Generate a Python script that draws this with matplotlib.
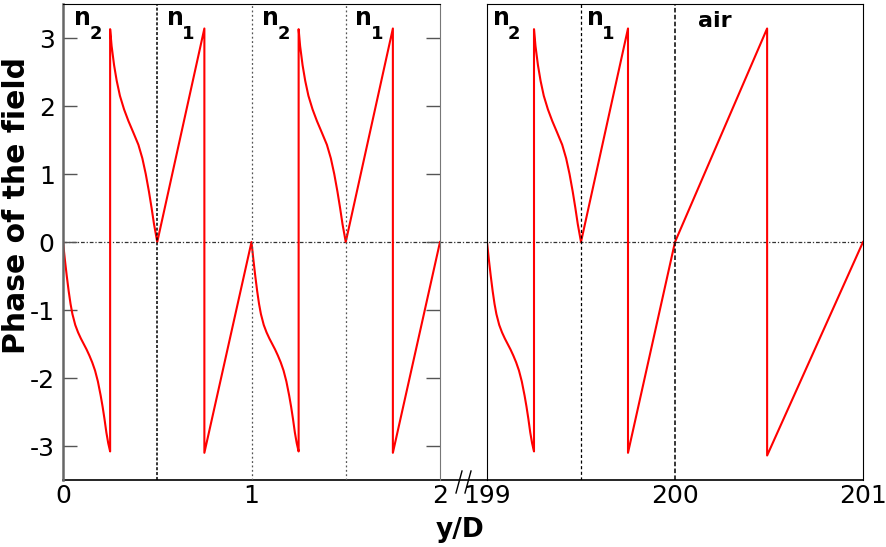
import numpy as np
import matplotlib.pyplot as plt

plt.rcParams["axes.unicode_minus"] = False
plt.rcParams["font.family"] = "DejaVu Sans"

# phase inside one n2 layer (position from layer start, y/D)
n2_pos_a = [0, 0.01, 0.02, 0.03, 0.04, 0.05, 0.065, 0.08, 0.095, 0.11, 0.125,
            0.14, 0.155, 0.17, 0.185, 0.2, 0.21, 0.22, 0.23, 0.24, 0.25]
n2_phase_a = [0, -0.26, -0.50, -0.72, -0.91, -1.06, -1.22, -1.33, -1.42, -1.50,
              -1.58, -1.67, -1.77, -1.89, -2.05, -2.26, -2.42, -2.60, -2.80,
              -2.96, -3.08]
n2_pos_b = [0.25, 0.258, 0.271, 0.285, 0.302, 0.324, 0.347, 0.373, 0.400,
            0.421, 0.439, 0.456, 0.470, 0.483, 0.5]
n2_phase_b = [3.13, 2.88, 2.60, 2.37, 2.15, 1.95, 1.78, 1.61, 1.43,
              1.23, 1.00, 0.74, 0.50, 0.26, 0]

# n1 layer and air layer: straight ramps with one wrap
n1_pos = [0, 0.25, 0.25, 0.5]
n1_phase = [0, 3.14, -3.10, 0]
air_pos = [0, 0.49, 0.49, 1.0]
air_phase = [0, 3.14, -3.14, 0]

left_starts = [0, 0.5, 1.0, 1.5]
left_layers = ["n2", "n1", "n2", "n1"]
right_starts = [199, 199.5, 200]
right_layers = ["n2", "n1", "air"]

profiles = {
    "n2": (n2_pos_a + n2_pos_b, n2_phase_a + n2_phase_b),
    "n1": (n1_pos, n1_phase),
    "air": (air_pos, air_phase),
}


def build_curve(starts, layers):
    xs, ys = [], []
    for s, lay in zip(starts, layers):
        p, ph = profiles[lay]
        xs += [s + v for v in p]
        ys += list(ph)
    return np.array(xs), np.array(ys)


W, H = 886, 547
fig = plt.figure(figsize=(W / 100, H / 100), dpi=100)

x0, x1, x2, x3 = 63, 440, 487, 863
ytop, ybot = 4, 480
fb = (H - ybot) / H
fh = (ybot - ytop) / H

# background axes: zero line and bottom line running across the gap
bg = fig.add_axes([x0 / W, fb, (x3 - x0) / W, fh])
bg.set_xlim(0, 1)
bg.set_ylim(-3.5, 3.5)
bg.axhline(0, color="#333333", lw=0.9, ls=(0, (3, 1.5, 1, 1.5)))
for s in ["left", "right", "top"]:
    bg.spines[s].set_visible(False)
bg.spines["bottom"].set_linewidth(1.2)
bg.set_xticks([])
bg.set_yticks([])
bg.patch.set_visible(False)

# break marks
gx = (456 - x0) / (x3 - x0)
for dx in [0, 9 / (x3 - x0)]:
    bg.plot([gx + dx, gx + dx + 6 / (x3 - x0)], [-13 / fh / H, 9 / fh / H],
            color="black", lw=1, transform=bg.transAxes, clip_on=False)

axL = fig.add_axes([x0 / W, fb, (x1 - x0) / W, fh])
axR = fig.add_axes([x2 / W, fb, (x3 - x2) / W, fh])

xl, yl = build_curve(left_starts, left_layers)
xr, yr = build_curve(right_starts, right_layers)
axL.plot(xl, yl, color="red", lw=1.5)
axR.plot(xr, yr, color="red", lw=1.5)

axL.axvline(0.5, color="black", lw=1.1, ls=(0, (2, 1.2)))
axL.axvline(1.0, color="#555555", lw=0.9, ls=(0, (1.5, 2)))
axL.axvline(1.5, color="#555555", lw=0.9, ls=(0, (1.5, 2)))
axR.axvline(199.5, color="black", lw=0.9, ls=(0, (2.5, 2)))
axR.axvline(200, color="black", lw=1.1, ls=(0, (3, 1.5)))

axL.set_xlim(0, 2)
axR.set_xlim(199, 201)
for ax in [axL, axR]:
    ax.set_ylim(-3.5, 3.5)
    ax.patch.set_visible(False)
    ax.spines["bottom"].set_visible(False)

axL.set_xticks([0, 1, 2])
axR.set_xticks([199, 200, 201])
for ax in [axL, axR]:
    ax.tick_params(axis="x", length=0, labelsize=18, pad=3)

axL.set_yticks([-3, -2, -1, 0, 1, 2, 3])
axL.tick_params(axis="y", direction="in", length=10, width=1, labelsize=18,
                right=True, pad=6, color="#555555")
axL.spines["left"].set_color("#666666")
axL.spines["left"].set_linewidth(1.8)
axL.spines["right"].set_color("#777777")
axR.set_yticks([])


def layer_label(ax, x, sub):
    ax.text(x, 3.47, "n", fontsize=17, fontweight="bold", va="top", ha="left")
    ax.annotate(sub, xy=(x, 3.47), xytext=(11, -14), textcoords="offset points",
                fontsize=13, fontweight="bold", va="top", ha="left")


layer_label(axL, 0.06, "2")
layer_label(axL, 0.55, "1")
layer_label(axL, 1.055, "2")
layer_label(axL, 1.55, "1")
layer_label(axR, 199.03, "2")
layer_label(axR, 199.53, "1")
axR.text(200.12, 3.4, "air", fontsize=16, fontweight="bold", va="top", ha="left")

fig.text(17 / W, 1 - 205 / H, "Phase of the field", rotation=90, fontsize=21.5,
         fontweight="bold", ha="center", va="center")
fig.text(460 / W, 1 - 530 / H, "y/D", fontsize=19, fontweight="bold",
         ha="center", va="center")

fig.savefig("out.png", dpi=100)
